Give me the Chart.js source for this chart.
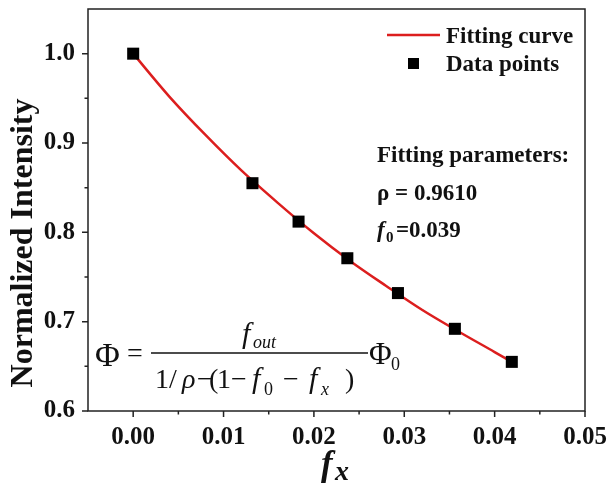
<!DOCTYPE html>
<html>
<head>
<meta charset="utf-8">
<script src="https://cdn.jsdelivr.net/npm/chart.js@4"></script>
<style>
  html, body { margin: 0; padding: 0; background: #fff; }
  #c { display: block; }
</style>
</head>
<body>
<canvas id="c" width="610" height="486"></canvas>
<script>
// ---- data ----
const xTickValues = [0, 0.01, 0.02, 0.03, 0.04, 0.05];
const xTickLabels = ['0.00', '0.01', '0.02', '0.03', '0.04', '0.05'];
const xMinorTicks = [0.005, 0.015, 0.025, 0.035, 0.045];
const yTickValues = [0.6, 0.7, 0.8, 0.9, 1.0];
const yTickLabels = ['0.6', '0.7', '0.8', '0.9', '1.0'];
const yMinorTicks = [0.65, 0.75, 0.85, 0.95];

const dataX = [0, 0.0132, 0.0183, 0.0237, 0.0293, 0.0356, 0.0419];
const dataY = [1.0, 0.855, 0.812, 0.771, 0.732, 0.692, 0.655];

const fitX = [0, 0.004, 0.008, 0.012, 0.016, 0.020, 0.024, 0.028, 0.032, 0.036, 0.040, 0.0419];
const fitY = [1.0, 0.952, 0.909, 0.869, 0.833, 0.799, 0.768, 0.740, 0.713, 0.689, 0.666, 0.655];

const legendLabels = ['Fitting curve', 'Data points'];
const RED = '#dc1e1e';
const SERIF = '"Liberation Serif", "Times New Roman", serif';
function F(style, weight, size) { return `${style} ${weight} ${size}px ${SERIF}`; }

function noPad(s) { s.paddingLeft = 0; s.paddingRight = 0; s.paddingTop = 0; s.paddingBottom = 0; }

const decor = {
  id: 'decor',
  afterDraw(chart) {
    const ctx = chart.ctx;
    const a = chart.chartArea;
    const xs = chart.scales.x, ys = chart.scales.y;
    ctx.save();
    // frame
    ctx.strokeStyle = '#222';
    ctx.lineWidth = 1.5;
    ctx.strokeRect(a.left, a.top, a.right - a.left, a.bottom - a.top);
    // ticks
    ctx.beginPath();
    xTickValues.forEach(v => { const p = xs.getPixelForValue(v); ctx.moveTo(p, a.bottom); ctx.lineTo(p, a.bottom + 6); });
    xMinorTicks.forEach(v => { const p = xs.getPixelForValue(v); ctx.moveTo(p, a.bottom); ctx.lineTo(p, a.bottom + 3.5); });
    yTickValues.forEach(v => { const p = ys.getPixelForValue(v); ctx.moveTo(a.left, p); ctx.lineTo(a.left - 6, p); });
    yMinorTicks.forEach(v => { const p = ys.getPixelForValue(v); ctx.moveTo(a.left, p); ctx.lineTo(a.left - 3.5, p); });
    ctx.stroke();

    ctx.fillStyle = '#111';
    ctx.textBaseline = 'alphabetic';
    // y title
    ctx.save();
    ctx.translate(32, 243);
    ctx.rotate(-Math.PI / 2);
    ctx.textAlign = 'center';
    ctx.font = F('normal', 'bold', 32);
    ctx.fillText('Normalized Intensity', 0, 0);
    ctx.restore();
    // x title f_x
    ctx.textAlign = 'left';
    ctx.font = F('italic', 'bold', 35);
    ctx.fillText('f', 321, 475);
    ctx.font = F('italic', 'bold', 28);
    ctx.fillText('x', 335, 480);

    // legend
    ctx.strokeStyle = RED;
    ctx.lineWidth = 2.5;
    ctx.beginPath(); ctx.moveTo(387, 35); ctx.lineTo(440, 35); ctx.stroke();
    ctx.fillStyle = '#000';
    ctx.fillRect(408, 58, 11, 11);
    ctx.fillStyle = '#111';
    ctx.font = F('normal', 'bold', 23);
    ctx.fillText(legendLabels[0], 446, 43);
    ctx.fillText(legendLabels[1], 446, 71);

    // fitting parameters
    ctx.fillText('Fitting parameters:', 377, 162);
    ctx.fillText('\u03C1 = 0.9610', 377, 200);
    ctx.font = F('italic', 'bold', 23);
    ctx.fillText('f', 377, 237);
    ctx.font = F('normal', 'bold', 15);
    ctx.fillText('0', 386, 242);
    ctx.font = F('normal', 'bold', 23);
    ctx.fillText('=0.039', 396, 237);

    // formula
    ctx.fillStyle = '#111';
    ctx.font = F('normal', 'normal', 34);
    ctx.fillText('\u03A6', 95, 366);
    ctx.font = F('normal', 'normal', 28);
    ctx.fillText('=', 127, 362);
    ctx.lineWidth = 1.3;
    ctx.strokeStyle = '#111';
    ctx.beginPath(); ctx.moveTo(151, 353); ctx.lineTo(368, 353); ctx.stroke();
    // numerator
    ctx.font = F('italic', 'normal', 30);
    ctx.fillText('f', 242, 343);
    ctx.font = F('italic', 'normal', 18);
    ctx.fillText('out', 253, 348);
    // denominator
    const base = 388;
    const parts = [
      ['1', 155, 'normal', 28, 0],
      ['/', 169, 'normal', 28, 0],
      ['\u03C1', 182, 'italic', 28, 0],
      ['\u2212', 197, 'normal', 28, 0],
      ['(', 209, 'normal', 28, 0],
      ['1', 217, 'normal', 28, 0],
      ['\u2212', 231, 'normal', 28, 0],
      ['f', 252, 'italic', 30, 0],
      ['0', 264, 'normal', 18, 7],
      ['\u2212', 283, 'normal', 28, 0],
      ['f', 309, 'italic', 30, 0],
      ['x', 321, 'italic', 18, 7],
      [')', 345, 'normal', 28, 0]
    ];
    parts.forEach(p => { ctx.font = F(p[2], 'normal', p[3]); ctx.fillText(p[0], p[1], base + p[4]); });
    ctx.font = F('normal', 'normal', 31);
    ctx.fillText('\u03A6', 369, 364);
    ctx.font = F('normal', 'normal', 18);
    ctx.fillText('0', 391, 370);
    ctx.restore();
  }
};

new Chart(document.getElementById('c'), {
  type: 'scatter',
  data: {
    datasets: [
      {
        label: legendLabels[0],
        data: fitX.map((x, i) => ({ x, y: fitY[i] })),
        showLine: true,
        borderColor: RED,
        borderWidth: 2.5,
        pointRadius: 0,
        tension: 0.4,
        cubicInterpolationMode: 'monotone',
        order: 2
      },
      {
        label: legendLabels[1],
        data: dataX.map((x, i) => ({ x, y: dataY[i] })),
        pointStyle: 'rect',
        pointRadius: 8.5,
        pointBackgroundColor: '#000',
        pointBorderColor: '#000',
        pointBorderWidth: 0,
        order: 1
      }
    ]
  },
  options: {
    responsive: false,
    animation: false,
    devicePixelRatio: 1,
    layout: { padding: { top: 9, right: 25, left: 0, bottom: 0 } },
    plugins: { legend: { display: false }, tooltip: { enabled: false } },
    scales: {
      x: {
        type: 'linear',
        min: -0.005,
        max: 0.05,
        afterFit: s => { s.height = 75; noPad(s); },
        afterBuildTicks: s => { s.ticks = xTickValues.map(v => ({ value: v })); },
        grid: { display: false, drawTicks: false },
        border: { display: false },
        ticks: {
          padding: 12,
          color: '#111',
          font: { family: SERIF, weight: 'bold', size: 25 },
          maxRotation: 0,
          autoSkip: false,
          callback: (v, i) => xTickLabels[i]
        }
      },
      y: {
        type: 'linear',
        min: 0.6,
        max: 1.05,
        afterFit: s => { s.width = 88; noPad(s); },
        afterBuildTicks: s => { s.ticks = yTickValues.map(v => ({ value: v })); },
        grid: { display: false, drawTicks: false },
        border: { display: false },
        ticks: {
          padding: 13,
          color: '#111',
          font: { family: SERIF, weight: 'bold', size: 25 },
          autoSkip: false,
          callback: (v, i) => yTickLabels[i]
        }
      }
    }
  },
  plugins: [decor]
});
</script>
</body>
</html>
